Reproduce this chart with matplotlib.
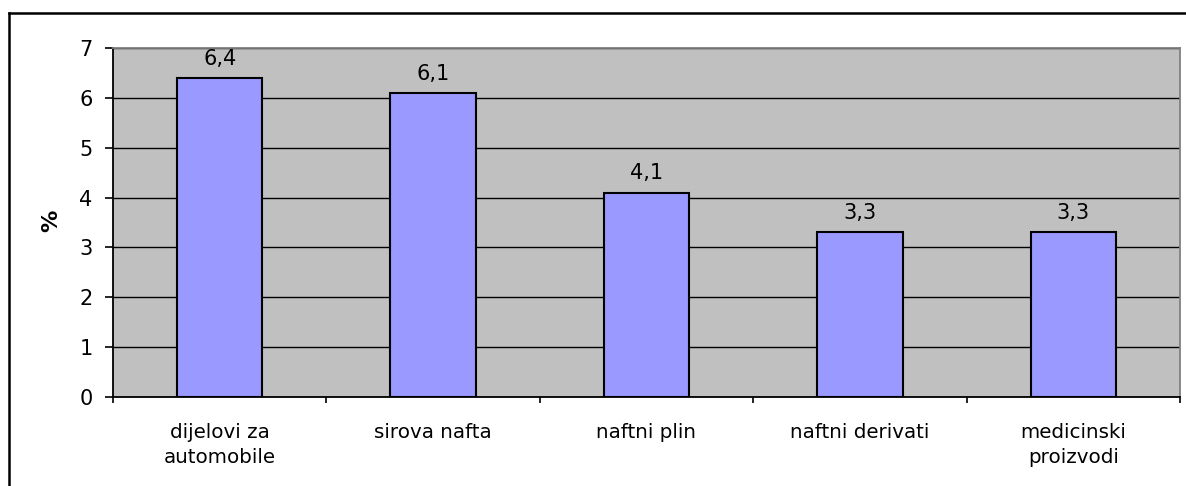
import matplotlib
matplotlib.use("Agg")
import matplotlib.pyplot as plt
from matplotlib.lines import Line2D
import numpy as np

categories = ["dijelovi za\nautomobile", "sirova nafta", "naftni plin", "naftni derivati", "medicinski\nproizvodi"]
values = [6.4, 6.1, 4.1, 3.3, 3.3]
value_labels = ["6,4", "6,1", "4,1", "3,3", "3,3"]
yticks = [0, 1, 2, 3, 4, 5, 6, 7]

plt.rcParams['font.family'] = ['DejaVu Sans']

W, H = 1186, 486
fig = plt.figure(figsize=(W / 100, H / 100), dpi=100)
ax_l, ax_r, ax_t, ax_b = 113, 1180, 48, 397
ax = fig.add_axes([ax_l / W, 1 - ax_b / H, (ax_r - ax_l) / W, (ax_b - ax_t) / H])
ax.set_facecolor("#C0C0C0")

x = np.arange(len(categories))
ax.set_axisbelow(True)
ax.yaxis.grid(True, color="black", linewidth=1.0)
ax.bar(x, values, width=0.4, color="#9999FF", edgecolor="black", linewidth=1.5, zorder=3)

for xi, v, lab in zip(x, values, value_labels):
    ax.annotate(lab, (xi, v), xytext=(0, 9.5), textcoords="offset points",
                ha="center", va="baseline", fontsize=15, color="black")

ax.set_xlim(-0.5, len(categories) - 0.5)
ax.set_ylim(0, 7)
ax.set_yticks(yticks)
ax.set_yticklabels([str(t) for t in yticks], fontsize=15)
ax.tick_params(axis="y", direction="out", length=5.8, width=1.2, pad=9)

ax.set_xticks(np.arange(-0.5, len(categories), 1.0))
ax.set_xticklabels([])
ax.tick_params(axis="x", which="major", direction="out", length=4.3, width=1.2)
ax.set_xticks(x, minor=True)
ax.set_xticklabels(categories, minor=True, fontsize=14.3, linespacing=1.38)
ax.tick_params(axis="x", which="minor", length=0, pad=19)

ax.set_ylabel("%", fontsize=16, fontweight="bold")
ax.yaxis.set_label_coords((51 - ax_l) / (ax_r - ax_l), (ax_b - 221) / (ax_b - ax_t))
ax.yaxis.label.set_va("center")
ax.yaxis.label.set_ha("center")

for s in ["left", "bottom"]:
    ax.spines[s].set_color("black")
    ax.spines[s].set_linewidth(1.3)
for s in ["top", "right"]:
    ax.spines[s].set_color("#808080")
    ax.spines[s].set_linewidth(1.3)

# outer chart frame (left and top edges visible)
x0 = 9 / W
y0 = 1 - 13 / H
fig.add_artist(Line2D([x0, x0], [y0, -0.01], transform=fig.transFigure, color="black", linewidth=1.8))
fig.add_artist(Line2D([x0, 1.01], [y0, y0], transform=fig.transFigure, color="black", linewidth=1.8))

fig.savefig("out.png", dpi=100, facecolor="white")
